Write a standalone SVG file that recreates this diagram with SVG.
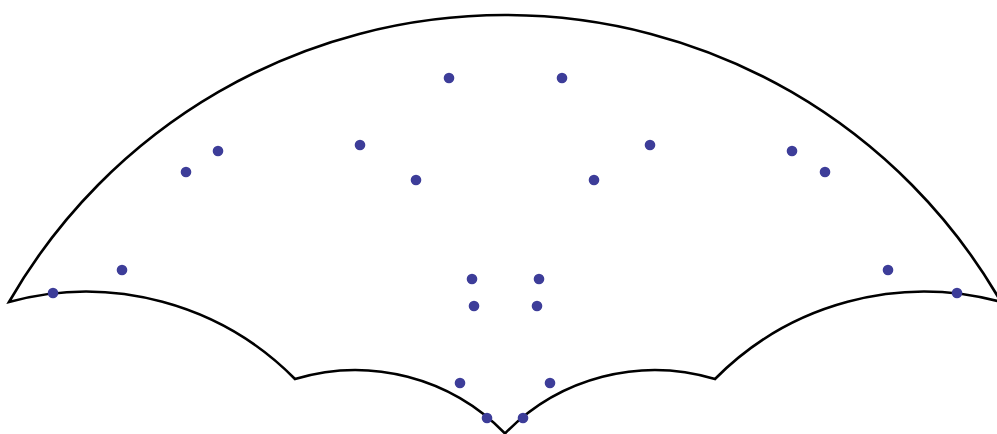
<svg xmlns="http://www.w3.org/2000/svg" width="997" height="434" viewBox="0 0 997 434">
  <style>
    .edge { fill: none; stroke: #000; stroke-width: 2.6; stroke-linejoin: miter; }
    .pt { fill: #3d3d99; }
  </style>
  <rect x="0" y="0" width="997" height="434" fill="#fff"/>
  <g id="outline">
    <path class="edge" d="M9,302 A572.1,572.1 0 0 1 1001,302 A293.7,293.7 0 0 0 715,379 A208.5,208.5 0 0 0 505,433.5 A208.5,208.5 0 0 0 295,379 A293.7,293.7 0 0 0 9,302 Z"/>
  </g>
  <g id="points">
    <g id="p1"><circle class="pt" cx="449" cy="78" r="5.3"/></g>
    <g id="p2"><circle class="pt" cx="562" cy="78" r="5.3"/></g>
    <g id="p3"><circle class="pt" cx="218" cy="151" r="5.3"/></g>
    <g id="p4"><circle class="pt" cx="186" cy="172" r="5.3"/></g>
    <g id="p5"><circle class="pt" cx="360" cy="145" r="5.3"/></g>
    <g id="p6"><circle class="pt" cx="416" cy="180" r="5.3"/></g>
    <g id="p7"><circle class="pt" cx="650" cy="145" r="5.3"/></g>
    <g id="p8"><circle class="pt" cx="594" cy="180" r="5.3"/></g>
    <g id="p9"><circle class="pt" cx="792" cy="151" r="5.3"/></g>
    <g id="p10"><circle class="pt" cx="825" cy="172" r="5.3"/></g>
    <g id="p11"><circle class="pt" cx="122" cy="270" r="5.3"/></g>
    <g id="p12"><circle class="pt" cx="888" cy="270" r="5.3"/></g>
    <g id="p13"><circle class="pt" cx="53" cy="293" r="5.3"/></g>
    <g id="p14"><circle class="pt" cx="957" cy="293" r="5.3"/></g>
    <g id="p15"><circle class="pt" cx="472" cy="279" r="5.3"/></g>
    <g id="p16"><circle class="pt" cx="539" cy="279" r="5.3"/></g>
    <g id="p17"><circle class="pt" cx="474" cy="306" r="5.3"/></g>
    <g id="p18"><circle class="pt" cx="537" cy="306" r="5.3"/></g>
    <g id="p19"><circle class="pt" cx="460" cy="383" r="5.3"/></g>
    <g id="p20"><circle class="pt" cx="550" cy="383" r="5.3"/></g>
    <g id="p21"><circle class="pt" cx="487" cy="418" r="5.3"/></g>
    <g id="p22"><circle class="pt" cx="523" cy="418" r="5.3"/></g>
  </g>
  <g id="connectors"></g>
</svg>
